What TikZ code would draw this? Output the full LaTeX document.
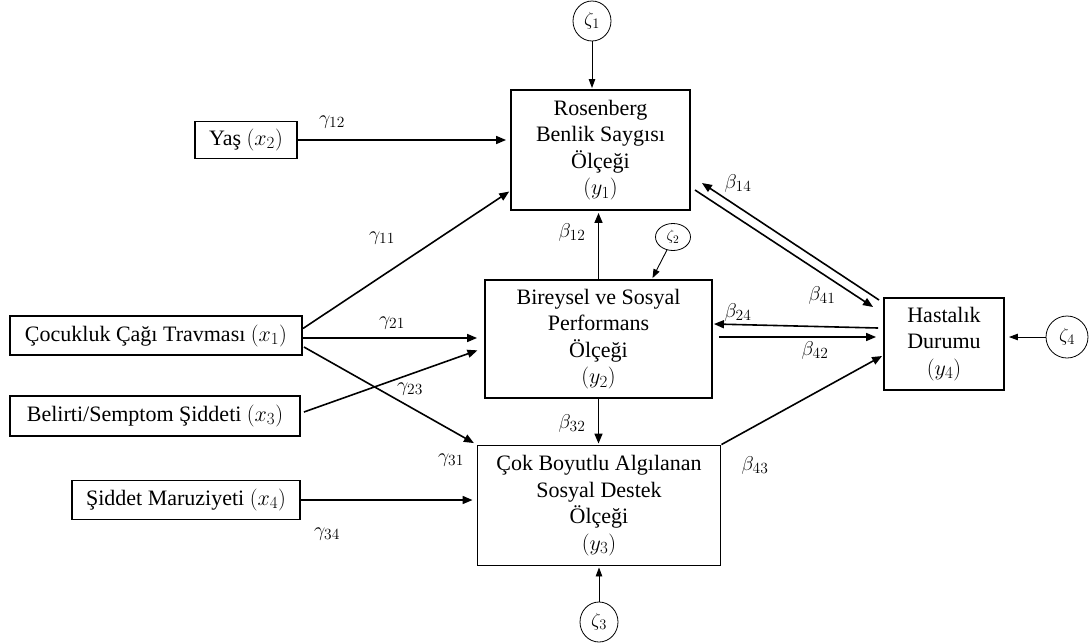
\RequirePackage{fix-cm}
\documentclass[tikz,border=0pt]{standalone}
\usepackage{fontspec}
\setmainfont{Liberation Serif}
\usetikzlibrary{arrows.meta,calc,shapes.geometric}
\DeclareMathSizes{22}{22}{17}{13}
\DeclareMathSizes{20}{20}{15.5}{12}
\DeclareMathSizes{19}{19}{14.5}{11}
\DeclareMathSizes{15}{15}{11.5}{9}
\begin{document}
\begin{tikzpicture}[x=1pt,y=-1pt,
 box/.style={draw,line width=1.9pt,inner sep=0pt,align=center,font=\fontsize{22}{26.5}\selectfont},
 lbl/.style={font=\fontsize{20}{22}\selectfont,inner sep=0pt},
 zeta/.style={draw,ellipse,line width=0.8pt,inner sep=0pt,font=\fontsize{19}{20}\selectfont},
 arr/.style={line width=1.6pt,-{Triangle[length=10pt,width=8pt]},shorten >=4pt},
 zarr/.style={line width=0.9pt,-{Triangle[length=9pt,width=6.5pt]},shorten >=1pt}]
\useasboundingbox[fill=white] (0,0) rectangle (1092,643);
% boxes
\node[box,minimum width=179pt,minimum height=120pt] (R) at (600.5,150) {Rosenberg\\Benlik Saygısı\\Ölçeği\\$(y_1)$};
\node[box,minimum width=227pt,minimum height=118pt] (P) at (598.5,339) {Bireysel ve Sosyal\\Performans\\Ölçeği\\$(y_2)$};
\node[box,minimum width=243pt,minimum height=120pt] (K) at (599,505.5) {Çok Boyutlu Algılanan\\Sosyal Destek\\Ölçeği\\$(y_3)$};
\node[box,minimum width=120pt,minimum height=92pt] (H) at (944,344) {Hastalık\\Durumu\\$(y_4)$};
\node[box,minimum width=102pt,minimum height=37pt] (Y) at (246,140) {Yaş $(x_2)$};
\node[box,minimum width=292pt,minimum height=39pt] (C) at (156,335.5) {Çocukluk Çağı Travması $(x_1)$};
\node[box,minimum width=290pt,minimum height=40pt] (B) at (155,416) {Belirti/Semptom Şiddeti $(x_3)$};
\node[box,minimum width=228pt,minimum height=39pt] (S) at (186,500) {Şiddet Maruziyeti $(x_4)$};
% error terms
\node[zeta,minimum width=38pt,minimum height=40pt] (Z1) at (592,21) {$\zeta_1$};
\node[zeta,minimum width=35pt,minimum height=27pt,font=\fontsize{15}{16}\selectfont] (Z2) at (673,237) {$\zeta_2$};
\node[zeta,minimum width=38pt,minimum height=40pt] (Z3) at (599,622) {$\zeta_3$};
\node[zeta,minimum width=42pt,minimum height=42pt] (Z4) at (1067,337) {$\zeta_4$};
% helper coordinates
\coordinate (Rt) at ($(R.west)+(0,41)$);
\coordinate (Pt1) at ($(P.west)+(0,-1)$);
\coordinate (Pt2) at ($(P.west)+(0,9)$);
\coordinate (Pz) at ($(P.north)+(53.5,0)$);
% arrows
\draw[zarr] (Z1.south) -- (Z1.south |- R.north);
\draw[zarr] (Z2.245) -- (Pz);
\draw[zarr] (Z3.north) -- (Z3.north |- K.south);
\draw[zarr,shorten >=4pt] (Z4.west) -- (Z4.west -| H.east);
\draw[arr] (Y.east) -- (Y.east -| R.west);
\draw[arr,shorten >=1pt] ($(C.east)+(0,-7)$) -- (Rt);
\draw[arr,shorten >=7pt] ($(C.east)+(0,2.5)$) -- (Pt1);
\draw[arr,shorten >=7pt] ($(B.east)+(3,-4)$) -- (Pt2);
\draw[arr,shorten >=3pt] ($(C.east)+(1,11.5)$) -- (K.north west);
\draw[arr] (S.east) -- (S.east -| K.west);
\draw[arr,shorten >=2pt] (P.north) -- (P.north |- R.south);
\draw[arr,shorten >=1pt] (P.south) -- (P.south |- K.north);
\draw[arr,shorten >=0pt] ($(R.east)+(4,40)$) -- ($(H.west)+(-10,-37)$);
\draw[arr,shorten >=0pt] ($(H.west)+(-4,-44)$) -- ($(R.east)+(11,33)$);
\draw[arr,shorten >=0pt] ($(H.west)+(-5,-16)$) -- ($(P.east)+(1,-15)$);
\draw[arr,shorten >=0pt] ($(P.east)+(6,-2)$) -- ($(H.west)+(-7,-7)$);
\draw[arr,shorten >=0pt] ($(K.north east)+(0,0)$) -- ($(H.west)+(-1,12)$);
% labels
\node[lbl] (g12) at (332,122) {$\gamma_{12}$};
\node[lbl] (g11) at (382,238) {$\gamma_{11}$};
\node[lbl] (g21) at (392,323) {$\gamma_{21}$};
\node[lbl] (g23) at (410,389) {$\gamma_{23}$};
\node[lbl] (g31) at (451,460) {$\gamma_{31}$};
\node[lbl] (g34) at (327,534) {$\gamma_{34}$};
\node[lbl] (b12) at (572,232) {$\beta_{12}$};
\node[lbl] (b32) at (572,423) {$\beta_{32}$};
\node[lbl] (b14) at (738,183) {$\beta_{14}$};
\node[lbl] (b41) at (822,295) {$\beta_{41}$};
\node[lbl] (b24) at (738,312) {$\beta_{24}$};
\node[lbl] (b42) at (815,350) {$\beta_{42}$};
\node[lbl] (b43) at (755,465) {$\beta_{43}$};
\end{tikzpicture}
\end{document}
